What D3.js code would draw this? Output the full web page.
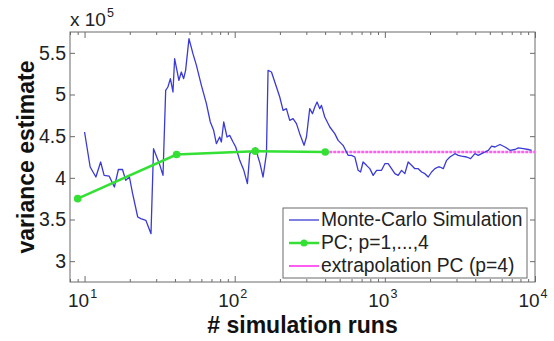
<!DOCTYPE html>
<html>
<head>
<meta charset="utf-8">
<script src="https://cdn.jsdelivr.net/npm/d3@7"></script>
<style>
  body { margin: 0; background: #fff; }
  text { font-family: "Liberation Sans", Arial, sans-serif; }
</style>
</head>
<body>
<div id="host"></div>
<script>
// Layout constants
const width = 554;
const height = 341;
const margin = {left: 70, right: 19, top: 32, bottom: 59};

// Monte-Carlo running estimate (number of runs, variance / 1e5)
const mcRuns = [10, 10.9, 11.9, 12.8, 13.5, 14.6, 15.8, 16.8, 17.9, 18.8, 19.9, 20.9, 22.6, 23.7,
    25.6, 27.7, 28.8, 31.5, 33.3, 34.7, 35.9, 37.3, 38.8, 39.8, 42.5, 44.1, 45.7, 47.1, 49.6,
    52.7, 55.6, 60, 64.8, 68.8, 72.4, 75.5, 79.4, 81.5, 84.5, 88.9, 92.6, 97.5, 101.6, 108,
    115, 121.5, 126, 132, 138, 143, 147, 154.5, 162.7, 166.8, 175.7, 189.7, 199.5, 210, 221,
    232.5, 244.7, 257.8, 271, 289.7, 300.5, 316, 329.6, 341.5, 353.7, 368.6, 378.3, 398, 430,
    464, 488.6, 527, 569, 600, 631, 664, 689, 716, 755, 794, 836, 881, 950, 1000, 1052, 1108,
    1166, 1227, 1292, 1359, 1430, 1506, 1585, 1668, 1757, 1848, 1945, 2048, 2154, 2267, 2327,
    2449, 2578, 2712, 2929, 3083, 3245, 3505, 3724, 3981, 4190, 4411, 4642, 4885, 5142, 5412,
    5843, 6310, 6813, 7356, 7743, 8356, 9020, 9500];
const mcVariance = [4.55, 4.13, 4.01, 4.19, 4.03, 4.02, 3.89, 4.10, 4.10, 3.97, 4.01, 3.81, 3.53, 3.51,
    3.49, 3.33, 4.35, 4.17, 4.03, 5.05, 5.09, 5.19, 5.03, 5.43, 5.17, 5.27, 5.19, 5.29, 5.67,
    5.49, 5.35, 5.11, 4.89, 4.67, 4.57, 4.41, 4.49, 4.43, 4.67, 4.49, 4.51, 4.43, 4.37, 4.21,
    4.09, 3.93, 4.29, 4.33, 4.36, 4.25, 4.18, 4.01, 4.29, 5.29, 5.27, 5.09, 4.97, 4.81, 4.83,
    4.69, 4.71, 4.65, 4.53, 4.39, 4.49, 4.83, 4.77, 4.85, 4.91, 4.83, 4.87, 4.73, 4.61,
    4.53, 4.45, 4.39, 4.27, 4.27, 4.25, 4.09, 4.07, 4.19, 4.15, 4.11, 4.03, 4.09, 4.09, 4.17, 4.17, 4.11,
    4.05, 4.03, 4.09, 4.05, 4.19, 4.15, 4.11, 4.11, 4.07, 4.05, 4.01, 4.07, 4.11, 4.13, 4.13,
    4.11, 4.21, 4.25, 4.29, 4.27, 4.26, 4.25, 4.23, 4.29, 4.27, 4.29, 4.31, 4.33, 4.38, 4.37,
    4.40, 4.37, 4.33, 4.34, 4.36, 4.35, 4.34, 4.33];

// Polynomial chaos estimates, p = 1..4
const pcRuns = [9, 41, 137, 401];
const pcVariance = [3.75, 4.28, 4.32, 4.31];

// Extrapolated PC (p=4)
const extraRuns = [401, 10000];
const extraVariance = [4.31, 4.31];

// Axis ticks
const yTicks = [3, 3.5, 4, 4.5, 5, 5.5];
const yLabels = ["3", "3.5", "4", "4.5", "5", "5.5"];
const xMajor = [10, 100, 1000, 10000];
const xExponents = ["1", "2", "3", "4"];

const legendLabels = ["Monte-Carlo Simulation", "PC; p=1,...,4", "extrapolation PC (p=4)"];

const BLUE = "#3a3ad6";
const GREEN = "#33e033";
const MAGENTA = "#ff5cf2";
const AXIS = "#6a6a6a";
const TEXT = "#222";

const svg = d3.select("#host").append("svg")
    .attr("width", width)
    .attr("height", height);

svg.append("rect").attr("width", width).attr("height", height).attr("fill", "#fff");

const x = d3.scaleLog()
    .domain([8, 10000])
    .range([margin.left, width - margin.right]);
const y = d3.scaleLinear()
    .domain([2.75, 5.75])
    .range([height - margin.bottom, margin.top]);

const x0 = x.range()[0], x1 = x.range()[1];
const y0 = y.range()[0], y1 = y.range()[1];

// Minor log ticks (2..9 in each decade) inside the box
const xMinor = [];
for (const d of [1, 10, 100, 1000]) {
    for (let k = 2; k <= 9; k++) xMinor.push(d * k);
}
const xMinorVisible = xMinor.filter(v => v >= 8 && v <= 10000);

function styleAxis(g) {
    g.select(".domain").remove();
    g.selectAll(".tick line").attr("stroke", AXIS).attr("stroke-width", 1);
}

// Bottom and top minor ticks
svg.append("g").attr("transform", `translate(0,${y0})`)
    .call(d3.axisBottom(x).tickValues(xMinorVisible).tickSize(-3).tickFormat(""))
    .call(styleAxis);
svg.append("g").attr("transform", `translate(0,${y1})`)
    .call(d3.axisTop(x).tickValues(xMinorVisible).tickSize(-3).tickFormat(""))
    .call(styleAxis);
// Major x ticks
svg.append("g").attr("transform", `translate(0,${y0})`)
    .call(d3.axisBottom(x).tickValues(xMajor).tickSize(-6).tickFormat(""))
    .call(styleAxis);
svg.append("g").attr("transform", `translate(0,${y1})`)
    .call(d3.axisTop(x).tickValues(xMajor).tickSize(-6).tickFormat(""))
    .call(styleAxis);

// Y ticks left (with labels) and right
const yAxisLeft = svg.append("g").attr("transform", `translate(${x0},0)`)
    .call(d3.axisLeft(y).tickValues(yTicks).tickSize(-5).tickPadding(4)
        .tickFormat((d, i) => yLabels[i]))
    .call(styleAxis);
yAxisLeft.selectAll(".tick text")
    .attr("fill", TEXT)
    .style("font-size", "19.5px")
    .style("font-family", "'Liberation Sans', Arial, sans-serif");
svg.append("g").attr("transform", `translate(${x1},0)`)
    .call(d3.axisRight(y).tickValues(yTicks).tickSize(-5).tickFormat(""))
    .call(styleAxis);

// Box
svg.append("rect")
    .attr("x", x0).attr("y", y1)
    .attr("width", x1 - x0).attr("height", y0 - y1)
    .attr("fill", "none").attr("stroke", AXIS).attr("stroke-width", 1);

// X tick labels 10^n
const xLab = svg.append("g");
xMajor.forEach((v, i) => {
    const t = xLab.append("text")
        .attr("x", x(v) - 2)
        .attr("y", y0 + 25)
        .attr("text-anchor", "middle")
        .attr("fill", TEXT)
        .style("font-size", "19px");
    t.append("tspan").text("10");
    t.append("tspan").attr("dy", -9).attr("dx", 1).style("font-size", "12.5px").text(xExponents[i]);
});

// Exponent label
const expo = svg.append("text")
    .attr("x", x0)
    .attr("y", 26)
    .attr("fill", TEXT)
    .style("font-size", "19px");
expo.append("tspan").text("x 10");
expo.append("tspan").attr("dy", -9).attr("dx", 1).style("font-size", "12.5px").text("5");

// Axis titles
svg.append("text")
    .attr("x", (x0 + x1) / 2)
    .attr("y", 333)
    .attr("text-anchor", "middle")
    .attr("fill", "#111")
    .style("font-size", "23px")
    .style("font-weight", "bold")
    .text("# simulation runs");

svg.append("text")
    .attr("transform", `translate(34,${(y0 + y1) / 2}) rotate(-90)`)
    .attr("text-anchor", "middle")
    .attr("fill", "#111")
    .style("font-size", "23px")
    .style("font-weight", "bold")
    .text("variance estimate");

// Data lines
const plot = svg.append("g");
const line = d3.line().x(d => x(d[0])).y(d => y(d[1]));

plot.append("path")
    .datum(extraRuns.map((r, i) => [r, extraVariance[i]]))
    .attr("d", line)
    .attr("fill", "none")
    .attr("stroke", MAGENTA)
    .attr("stroke-width", 2.4)
    .attr("stroke-dasharray", "3,1");

plot.append("path")
    .datum(mcRuns.map((r, i) => [r, mcVariance[i]]))
    .attr("d", line)
    .attr("fill", "none")
    .attr("stroke", BLUE)
    .attr("stroke-width", 1.3)
    .attr("stroke-linejoin", "round");

const pcData = pcRuns.map((r, i) => [r, pcVariance[i]]);
plot.append("path")
    .datum(pcData)
    .attr("d", line)
    .attr("fill", "none")
    .attr("stroke", GREEN)
    .attr("stroke-width", 2.5);
plot.selectAll("circle.pc")
    .data(pcData)
    .join("circle")
    .attr("class", "pc")
    .attr("cx", d => x(d[0]))
    .attr("cy", d => y(d[1]))
    .attr("r", 3.8)
    .attr("fill", GREEN);

// Legend
const legend = svg.append("g").attr("transform", "translate(283,208)");
legend.append("rect")
    .attr("width", 244).attr("height", 70)
    .attr("fill", "#fff").attr("stroke", AXIS).attr("stroke-width", 1);
const legendColors = [BLUE, GREEN, MAGENTA];
const legendWidths = [1.3, 2.5, 2];
legendLabels.forEach((label, i) => {
    const ly = 12 + i * 23;
    legend.append("line")
        .attr("x1", 6).attr("x2", 36)
        .attr("y1", ly).attr("y2", ly)
        .attr("stroke", legendColors[i])
        .attr("stroke-width", legendWidths[i]);
    if (i === 1) {
        legend.append("circle").attr("cx", 21).attr("cy", ly).attr("r", 3.5).attr("fill", GREEN);
    }
    legend.append("text")
        .attr("x", 38)
        .attr("y", ly + 6)
        .attr("fill", TEXT)
        .style("font-size", "19.3px")
        .text(label);
});
</script>
</body>
</html>
